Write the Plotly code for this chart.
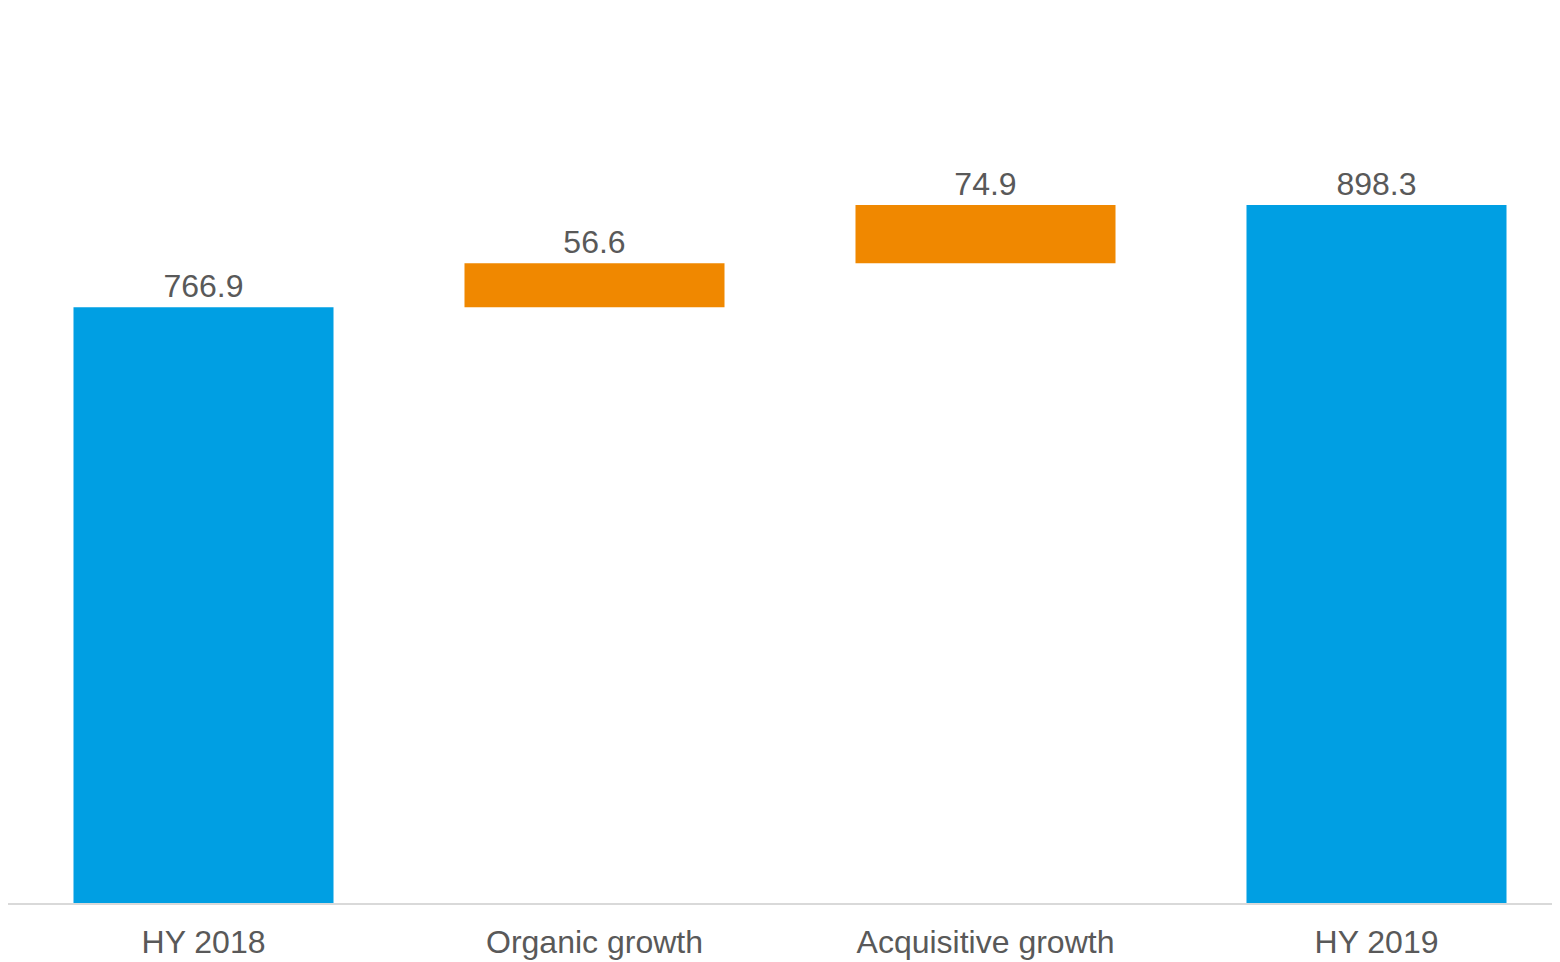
import plotly.graph_objects as go

categories = ["HY 2018", "Organic growth", "Acquisitive growth", "HY 2019"]
values = [766.9, 56.6, 74.9, 898.3]
measures = ["absolute", "relative", "relative", "absolute"]
labels = ["766.9", "56.6", "74.9", "898.3"]

BLUE = "#009FE3"
ORANGE = "#F08800"
GRAY = "#595959"
FONT = "Liberation Sans, Arial, sans-serif"

fig = go.Figure(go.Waterfall(
    x=categories,
    y=values,
    measure=measures,
    text=labels,
    textposition="outside",
    textfont=dict(family=FONT, size=32, color=GRAY),
    increasing=dict(marker=dict(color=ORANGE)),
    decreasing=dict(marker=dict(color=ORANGE)),
    totals=dict(marker=dict(color=BLUE)),
    connector=dict(visible=False),
    cliponaxis=False,
))

fig.update_layout(
    width=1564,
    height=962,
    margin=dict(l=0, r=0, t=0, b=67),
    paper_bgcolor="white",
    plot_bgcolor="white",
    showlegend=False,
    waterfallgap=0.335,
    font=dict(family=FONT, color=GRAY),
)
fig.update_xaxes(
    showline=True, linecolor="#D9D9D9", linewidth=2,
    showgrid=False, ticks="",
    tickfont=dict(size=32, color=GRAY),
    ticklabelstandoff=10,
)
fig.update_yaxes(
    range=[0, 1152], visible=False, showgrid=False, zeroline=False,
)

fig.write_html("out.html")
